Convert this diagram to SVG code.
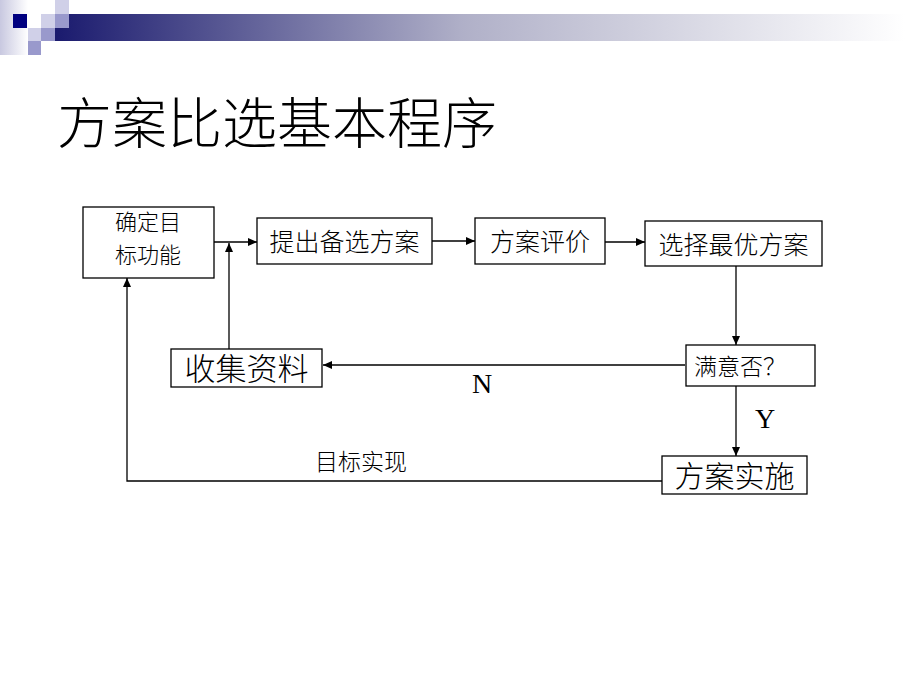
<svg xmlns="http://www.w3.org/2000/svg" width="920" height="690" viewBox="0 0 920 690">
  <defs>
    <linearGradient id="bar" x1="55" y1="0" x2="905" y2="0" gradientUnits="userSpaceOnUse">
      <stop offset="0" stop-color="#1a1a6e"/>
      <stop offset="0.48" stop-color="#b0b0c8"/>
      <stop offset="1" stop-color="#ffffff"/>
    </linearGradient>
    <linearGradient id="strip" x1="0" y1="0" x2="28" y2="0" gradientUnits="userSpaceOnUse">
      <stop offset="0" stop-color="#c8c8e0"/>
      <stop offset="1" stop-color="#ffffff"/>
    </linearGradient>
    <marker id="arr" markerWidth="10" markerHeight="8" refX="9" refY="4" orient="auto" markerUnits="userSpaceOnUse">
      <path d="M0,0 L9,4 L0,8 Z" fill="#000"/>
    </marker>
    <style>
      .box { fill: #fff; stroke: #000; stroke-width: 1.3; }
      .lbl { font-family: "Noto Sans CJK SC", "Noto Sans", sans-serif; fill: #000; font-weight: 300; }
      .lat { font-family: "Liberation Serif", "DejaVu Serif", serif; fill: #000; }
      .con { fill: none; stroke: #000; stroke-width: 1.3; }
    </style>
  </defs>

  <g id="header">
    <rect x="0" y="0" width="28" height="55" fill="url(#strip)"/>
    <rect x="55" y="14" width="850" height="27" fill="url(#bar)"/>
    <rect x="13" y="14" width="14" height="14" fill="#000080"/>
    <rect x="41" y="14" width="14" height="14" fill="#d0d0e8"/>
    <rect x="55" y="14" width="14" height="14" fill="#9999cc"/>
    <rect x="55" y="0" width="14" height="14" fill="#d0d0e8"/>
    <rect x="28" y="28" width="13" height="13" fill="#d0d0e8"/>
    <rect x="41" y="28" width="14" height="13" fill="#9999cc"/>
    <rect x="28" y="41" width="13" height="14" fill="#9999cc"/>
  </g>

  <text id="title" class="lbl" x="57" y="143" font-size="55">方案比选基本程序</text>

  <g id="connectors">
    <line class="con" x1="214" y1="242" x2="257" y2="242" marker-end="url(#arr)"/>
    <line class="con" x1="432" y1="241" x2="475" y2="241" marker-end="url(#arr)"/>
    <line class="con" x1="605" y1="242" x2="645" y2="242" marker-end="url(#arr)"/>
    <line class="con" x1="736" y1="266" x2="736" y2="345" marker-end="url(#arr)"/>
    <line class="con" x1="685" y1="365" x2="323" y2="365" marker-end="url(#arr)"/>
    <line class="con" x1="229" y1="349" x2="229" y2="243" marker-end="url(#arr)"/>
    <line class="con" x1="736" y1="386" x2="736" y2="456" marker-end="url(#arr)"/>
    <polyline class="con" points="662,481 127,481 127,278" marker-end="url(#arr)"/>
    <text class="lat" x="482" y="393" font-size="28" text-anchor="middle">N</text>
    <text class="lat" x="765" y="428" font-size="28" text-anchor="middle">Y</text>
    <text class="lbl" x="315" y="470" font-size="23">目标实现</text>
  </g>

  <g id="n1">
    <rect class="box" x="83" y="207" width="131" height="71"/>
    <text class="lbl" x="148" y="230" font-size="22" text-anchor="middle">确定目</text>
    <text class="lbl" x="148" y="263" font-size="22" text-anchor="middle">标功能</text>
  </g>
  <g id="n2">
    <rect class="box" x="257" y="218" width="175" height="46"/>
    <text class="lbl" x="344.5" y="251" font-size="25" text-anchor="middle">提出备选方案</text>
  </g>
  <g id="n3">
    <rect class="box" x="475" y="218" width="130" height="46"/>
    <text class="lbl" x="540" y="251" font-size="25" text-anchor="middle">方案评价</text>
  </g>
  <g id="n4">
    <rect class="box" x="645" y="221" width="177" height="45"/>
    <text class="lbl" x="733.5" y="254" font-size="25" text-anchor="middle">选择最优方案</text>
  </g>
  <g id="n5">
    <rect class="box" x="686" y="345" width="129" height="41"/>
    <text class="lbl" x="694" y="375" font-size="23">满意否？</text>
  </g>
  <g id="n6">
    <rect class="box" x="171" y="349" width="151" height="38"/>
    <text class="lbl" x="246.5" y="380" font-size="31" text-anchor="middle">收集资料</text>
  </g>
  <g id="n7">
    <rect class="box" x="662" y="456" width="145" height="38"/>
    <text class="lbl" x="734.5" y="487" font-size="30" text-anchor="middle">方案实施</text>
  </g>
</svg>
